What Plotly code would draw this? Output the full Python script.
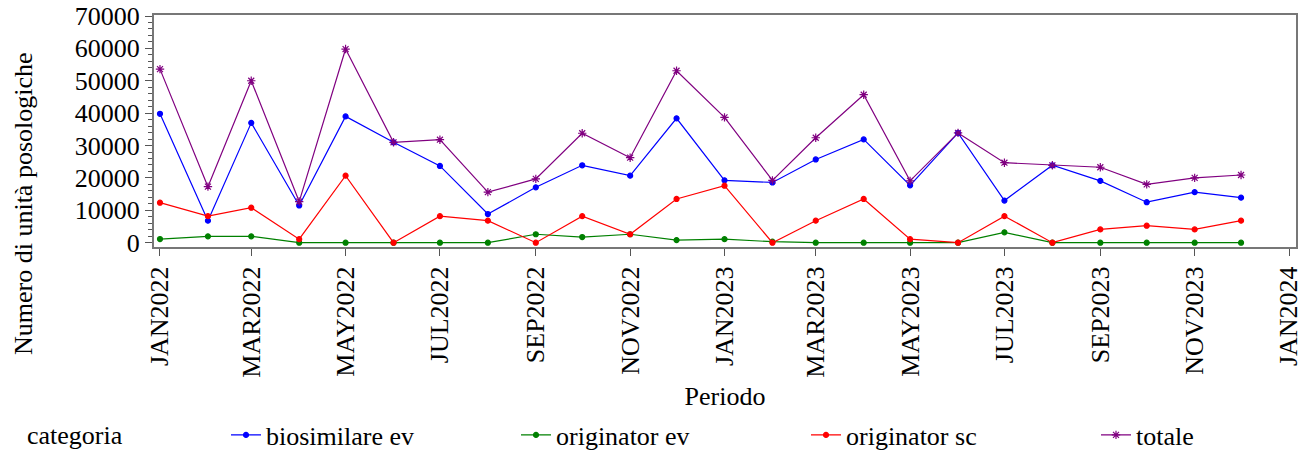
import plotly.graph_objects as go

months = ["2022-01-01", "2022-02-01", "2022-03-01", "2022-04-01", "2022-05-01", "2022-06-01",
          "2022-07-01", "2022-08-01", "2022-09-01", "2022-10-01", "2022-11-01", "2022-12-01",
          "2023-01-01", "2023-02-01", "2023-03-01", "2023-04-01", "2023-05-01", "2023-06-01",
          "2023-07-01", "2023-08-01", "2023-09-01", "2023-10-01", "2023-11-01", "2023-12-01"]

biosimilare_ev = [39800, 6800, 37000, 11500, 39000, 31000, 23700, 8850, 17100, 23900, 20700, 38400,
                  19250, 18600, 25700, 31900, 17700, 33900, 13000, 23900, 19100, 12500, 15600, 13900]
originator_ev = [1130, 1960, 1960, 0, 0, 0, 0, 0, 2600, 1750, 2600, 800,
                 1100, 300, 0, 0, 0, 0, 3200, 0, 0, 0, 0, 0]
originator_sc = [12350, 8200, 10800, 1100, 20700, 0, 8200, 6800, 0, 8200, 2600, 13500,
                 17600, 0, 6800, 13500, 1100, 0, 8200, 0, 4100, 5250, 4100, 6800]
totale = [53600, 17300, 50000, 12700, 59800, 31000, 31800, 15600, 19700, 33800, 26250, 53100,
          38700, 19250, 32400, 45700, 19100, 33900, 24700, 23900, 23300, 18000, 20000, 20900]

tick_dates = ["2022-01-01", "2022-03-01", "2022-05-01", "2022-07-01", "2022-09-01", "2022-11-01",
              "2023-01-01", "2023-03-01", "2023-05-01", "2023-07-01", "2023-09-01", "2023-11-01",
              "2024-01-01"]
tick_labels = ["JAN2022", "MAR2022", "MAY2022", "JUL2022", "SEP2022", "NOV2022",
               "JAN2023", "MAR2023", "MAY2023", "JUL2023", "SEP2023", "NOV2023", "JAN2024"]

FONT = "Liberation Serif, Times New Roman, serif"
W, H = 1306, 450
fig = go.Figure()

series = [
    ("biosimilare ev", biosimilare_ev, "#0000ff", "circle", 5, "legend"),
    ("originator ev", originator_ev, "#008000", "circle", 5, "legend"),
    ("originator sc", originator_sc, "#ff0000", "circle", 5, "legend"),
    ("totale", totale, "#800080", "asterisk", 7, "legend2"),
]
for name, vals, col, sym, sz, lg in series:
    fig.add_trace(go.Scatter(
        x=months, y=vals, name=name, mode="lines+markers", legend=lg,
        line=dict(color=col, width=1.2),
        marker=dict(color=col, symbol=sym, size=sz, line=dict(color=col, width=1.2)),
    ))

PLOT_L, PLOT_W, PLOT_B, PLOT_H = 154, 1142, 247, 232
legend_common = dict(
    orientation="h", xanchor="left", yref="container", xref="container",
    y=(H - 435) / H, yanchor="middle",
    entrywidth=245, entrywidthmode="pixels",
    font=dict(family=FONT, size=26, color="black"),
    bgcolor="rgba(0,0,0,0)",
)

fig.update_layout(
    width=W, height=H,
    margin=dict(l=154, r=10, t=15, b=203),
    paper_bgcolor="white", plot_bgcolor="white",
    font=dict(family=FONT, size=26, color="black"),
    showlegend=True,
    legend=dict(x=226 / W, **legend_common),
    legend2=dict(x=1096 / W, **legend_common),
    xaxis=dict(
        type="date", automargin=False, ticklabeloverflow="allow",
        range=["2021-12-28 03:00", "2024-01-05 12:40"],
        tickvals=tick_dates, ticktext=tick_labels, tickangle=-90,
        ticks="outside", ticklen=7, tickcolor="#555555",
        tickfont=dict(family=FONT, size=26, color="black"),
        showline=True, linecolor="#777777", linewidth=2, mirror=True,
        showgrid=False, zeroline=False,
        title=dict(text="Periodo", standoff=12, font=dict(family=FONT, size=26, color="black")),
    ),
    yaxis=dict(
        automargin=False, ticklabeloverflow="allow",
        range=[-1330, 70310],
        tickvals=[0, 10000, 20000, 30000, 40000, 50000, 60000, 70000],
        tickformat="d",
        ticks="outside", ticklen=7, tickcolor="#555555",
        tickfont=dict(family=FONT, size=26, color="black"),
        minor=dict(dtick=2000, ticks="outside", ticklen=4, tickcolor="#555555"),
        showline=True, linecolor="#777777", linewidth=2, mirror=True,
        showgrid=False, zeroline=False,
    ),
    annotations=[
        dict(
            text="Numero di unità posologiche", textangle=-90,
            xref="paper", yref="paper", x=(23 - PLOT_L) / PLOT_W, y=(PLOT_B - 204) / PLOT_H,
            xanchor="center", yanchor="middle", showarrow=False,
            font=dict(family=FONT, size=26, color="black"),
        ),
        dict(
            text="categoria",
            xref="paper", yref="paper", x=(25 - PLOT_L) / PLOT_W, y=(PLOT_B - 435) / PLOT_H,
            xanchor="left", yanchor="middle", showarrow=False,
            font=dict(family=FONT, size=26, color="black"),
        ),
    ],
)

# remove the default 8px page margin so the 1306x450 figure fills the window exactly
fig.write_html("out.html", config={"displayModeBar": False},
               post_script="document.body.style.margin='0';")
